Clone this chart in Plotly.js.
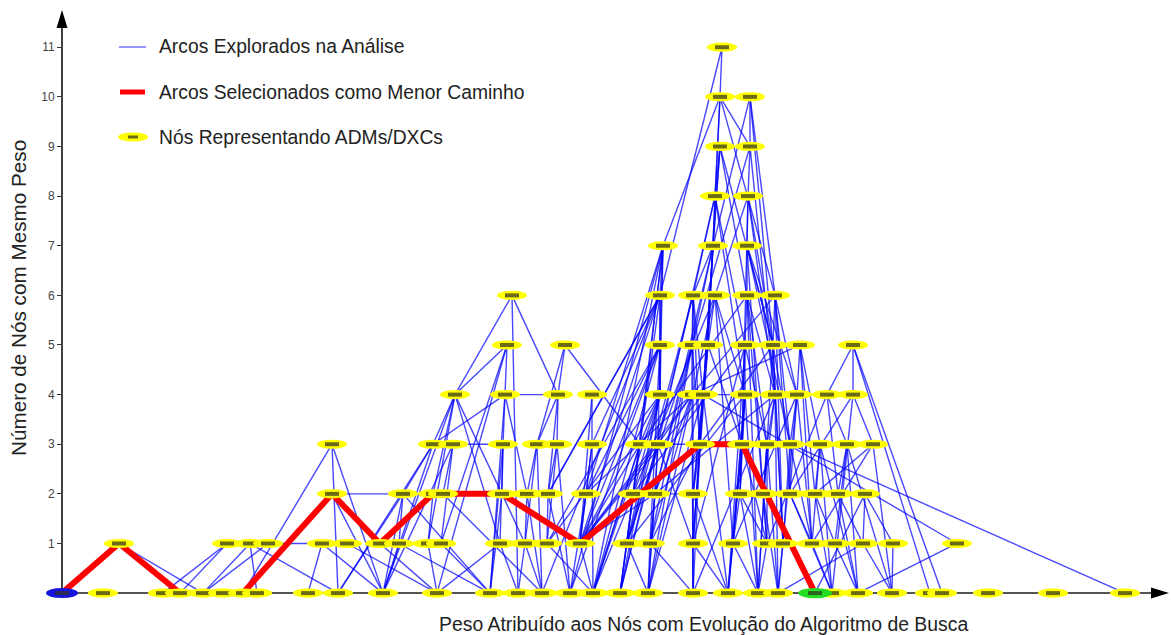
<!DOCTYPE html>
<html>
<head>
<meta charset="utf-8">
<script src="https://cdn.plot.ly/plotly-3.0.1.min.js"></script>
<style>html,body{margin:0;padding:0;background:#fff;}#chart{width:1171px;height:635px;}</style>
</head>
<body>
<div id="chart"></div>
<script>
// Peso (x) of each node, grouped by "número de nós com mesmo peso" (y level = array index)
const nivel0  = [0, 41, 101, 118, 141, 161, 181, 195, 246, 276, 321, 375, 428, 456, 480, 508, 531, 558, 586, 631, 666, 696, 716, 753, 770, 796, 830, 868, 880, 926, 991, 1063];
const nivel1  = [57, 165, 188, 206, 260, 285, 318, 337, 366, 379, 438, 463, 485, 518, 565, 588, 631, 671, 705, 721, 750, 773, 801, 831, 895];
const nivel2  = [270, 341, 371, 381, 440, 465, 486, 524, 571, 593, 631, 678, 701, 728, 753, 776, 803];
const nivel3  = [270, 371, 391, 441, 475, 495, 530, 578, 596, 638, 680, 705, 728, 758, 785, 811];
const nivel4  = [393, 443, 496, 530, 598, 630, 641, 683, 713, 735, 765, 791];
const nivel5  = [445, 503, 598, 630, 646, 683, 711, 738, 791];
const nivel6  = [450, 598, 631, 653, 685, 713];
const nivel7  = [601, 651, 685];
const nivel8  = [653, 686];
const nivel9  = [658, 688];
const nivel10 = [658, 688];
const nivel11 = [660];
const niveis = [nivel0, nivel1, nivel2, nivel3, nivel4, nivel5, nivel6, nivel7, nivel8, nivel9, nivel10, nivel11];

// Arcs explored (level:index - level:index)
const arcosExplorados = [
 "1:0-0:4","1:1-0:3","1:1-0:2","1:2-0:4","1:3-0:4","1:2-0:9","1:3-1:4","0:6-3:0","0:7-1:2","1:4-0:10","1:4-0:8","1:5-0:11",
 "0:9-3:1","0:10-3:1","0:10-3:2","0:10-4:0","3:0-0:10","3:0-0:9","2:0-0:10","2:0-2:1","1:6-1:7","2:1-0:10","3:1-4:0","2:2-4:0",
 "1:8-4:0","4:0-2:4","4:0-1:10","6:0-4:0","6:0-0:13","6:0-4:2","5:0-4:0","5:0-1:9","5:0-4:1","4:1-4:2","5:1-4:2","5:1-3:4",
 "5:1-3:7","4:3-1:13","4:1-3:3","4:2-3:5","4:2-2:6","1:6-0:11","1:7-0:12","2:1-0:12","2:3-0:14","3:2-3:3","3:2-2:3","3:2-1:9",
 "3:3-2:4","3:3-1:10","3:3-0:12","3:4-2:5","3:4-1:11","3:4-0:14","3:5-2:6","3:5-1:12","3:5-0:15","3:6-2:7","3:6-1:13","3:6-0:16",
 "3:1-2:1","2:1-1:7","2:1-0:9","2:2-1:8","2:4-1:11","2:4-0:12","2:5-1:11","2:5-0:14","2:6-1:12","2:6-0:15",
 "1:7-0:10","1:8-0:11","1:9-0:12","1:10-0:13","1:11-0:14","1:12-0:16","1:10-0:11","1:11-0:13",
 "0:11-5:0","0:12-4:1","4:1-3:1","4:1-2:5","4:2-3:4","4:3-3:6","0:15-7:0","0:14-6:1","1:12-5:2","2:6-6:1",
 "1:13-3:8","1:13-4:5","1:13-4:6","1:13-2:9","1:13-5:2","1:13-4:4","0:16-3:7","0:16-4:4",
 "11:0-10:0","11:0-6:1","10:0-7:0","10:0-8:0","10:0-9:1","10:0-6:5","10:1-9:1","10:1-6:5","10:1-7:1","9:0-8:0","9:0-7:1",
 "9:0-6:4","9:0-5:6","9:1-8:1","9:1-5:3","8:0-7:1","8:0-6:2","8:0-5:5","8:0-4:7","8:1-7:2","8:1-6:3","8:1-5:6","8:1-4:8",
 "7:0-6:1","7:0-5:2","7:0-4:4","7:0-3:7","7:0-1:14","7:1-6:2","7:1-5:4","7:1-4:6","7:1-3:9","7:2-6:4","7:2-5:6","7:2-4:9","7:2-3:12",
 "6:1-5:2","6:1-4:4","6:1-3:7","6:1-3:6","6:2-5:3","6:2-4:6","6:2-3:9","6:2-2:10","6:3-5:4","6:3-4:7","6:3-3:10","6:3-1:17",
 "6:4-5:5","6:4-4:8","6:4-3:11","6:4-0:21","6:5-5:6","6:5-4:9","6:5-3:12","6:5-2:13",
 "5:2-4:4","5:2-3:8","5:2-1:15","5:2-0:16","5:3-4:5","5:3-3:9","5:3-2:9","5:3-0:18","5:4-4:6","5:4-3:10","5:4-1:16",
 "5:5-4:7","5:5-3:11","5:5-2:11","5:5-0:20","5:6-4:8","5:6-3:12","5:6-1:19","5:7-4:9","5:7-3:13","5:7-2:14",
 "5:8-4:10","5:8-4:11","5:8-0:27","5:8-0:28",
 "4:4-3:7","4:4-2:8","4:4-1:14","4:4-0:17","4:5-3:8","4:5-2:9","4:5-1:15","4:5-0:19","4:6-3:9","4:6-2:10","4:6-1:16","4:6-0:20",
 "4:6-1:24","4:6-4:7","4:7-3:10","4:7-2:11","4:7-1:17","4:8-3:11","4:8-2:12","4:8-0:22","4:9-3:12","4:9-2:13","4:9-1:20",
 "4:10-3:14","4:10-2:15","4:11-3:15","4:11-2:13",
 "3:12-0:31","3:15-2:14","3:15-1:20","3:7-2:8","3:7-1:13","3:7-0:16","3:8-2:9","3:8-1:14","3:8-0:18","3:9-2:10","3:9-1:16",
 "3:9-0:19","3:10-2:11","3:10-1:17","3:10-0:20","3:11-2:12","3:11-1:18","3:11-0:21","3:12-2:13","3:12-1:19","3:13-2:14",
 "3:13-1:20","3:13-0:24","3:14-2:15","3:14-1:21","3:14-0:25","3:15-0:26",
 "2:16-0:23","2:16-1:22","2:16-1:23","2:7-1:13","2:7-0:15","2:8-1:14","2:8-0:17","2:9-1:15","2:9-0:18","2:10-1:16","2:10-0:19",
 "2:11-1:17","2:11-0:21","2:12-1:18","2:12-0:22","2:13-1:20","2:14-1:21","2:14-0:24","2:15-1:22","2:15-0:25",
 "1:13-0:16","1:14-0:17","1:15-0:18","1:16-0:19","1:17-0:20","1:18-0:21","1:19-0:22","1:20-0:24","1:21-0:25","1:22-0:26",
 "1:23-0:26","1:24-0:25","1:22-0:22",
 "6:4-3:7","5:5-2:8","4:7-1:14","4:8-2:9","5:6-3:9","6:5-4:5","5:7-4:5","4:8-0:19","4:9-1:17","4:7-0:21","4:10-1:18","4:11-0:24",
 "7:0-2:7","7:0-0:16","6:1-2:6","6:1-1:13","5:2-2:7","5:2-0:15","6:2-1:14","6:2-0:17","7:1-2:9","7:1-1:15","6:3-2:8","6:3-0:18",
 "8:0-3:8","8:1-3:10","9:0-4:6","9:1-4:8","10:0-5:4","10:1-5:6","7:2-2:12","6:4-1:18","6:5-1:19","5:5-1:16","5:6-0:21","5:7-1:20",
 "4:9-0:22","5:4-2:10","5:3-1:14","4:5-2:7","4:4-1:12","4:6-0:18","4:7-0:20","4:8-1:19","3:8-0:17","3:9-1:15","3:10-1:18",
 "3:11-0:22","3:12-1:20","3:13-0:25","3:14-0:26","2:10-0:20","2:11-1:18","2:13-0:24","3:7-0:17","3:8-1:16","4:4-4:5","3:8-3:9",
 "2:9-2:10","2:8-0:16","1:14-0:18","1:15-0:19","1:16-0:20","1:17-0:21"
];

// Shortest path (selected arcs)
const menorCaminho = ["0:0","1:0","0:3","0:6","2:0","1:6","2:2","2:4","1:13","3:9","3:10","0:23"];

const titulos = {
  x: "Peso Atribuído aos Nós com Evolução do Algoritmo de Busca",
  y: "Número de Nós com Mesmo Peso"
};
const legendaTextos = ["Arcos Explorados na Análise", "Arcos Selecionados como Menor Caminho", "Nós Representando ADMs/DXCs"];
const yTicks = [1,2,3,4,5,6,7,8,9,10,11];

function no(ref){ const p = ref.split(':').map(Number); return {x: niveis[p[0]][p[1]], y: p[0]}; }

const ex = [], ey = [];
arcosExplorados.forEach(a => {
  const [r1, r2] = a.split('-');
  const p = no(r1), q = no(r2);
  ex.push(p.x, q.x, null); ey.push(p.y, q.y, null);
});
const rx = menorCaminho.map(r => no(r).x);
const ry = menorCaminho.map(r => no(r).y);

const FONT = 'Arial, "Liberation Sans", sans-serif';
const XMIN = -25, XMAX = 1108, YMIN = -0.3, YMAX = 11.75;

const traces = [
  {x: ex, y: ey, mode: 'lines', type: 'scatter', line: {color: 'rgba(0,0,255,0.72)', width: 1.4}, hoverinfo: 'skip', showlegend: false},
  {x: rx, y: ry, mode: 'lines', type: 'scatter', line: {color: '#ff0000', width: 6}, hoverinfo: 'skip', showlegend: false}
];

const shapes = [];
const origem = no(menorCaminho[0]);
const destino = no(menorCaminho[menorCaminho.length - 1]);

// axes with arrows
shapes.push({type: 'line', xref: 'x', yref: 'y', x0: 0, x1: XMAX - 8, y0: 0, y1: 0, line: {color: '#555', width: 2}, layer: 'below'});
shapes.push({type: 'line', xref: 'x', yref: 'y', x0: 0, x1: 0, y0: 0, y1: YMAX - 0.2, line: {color: '#000', width: 1.5}, layer: 'below'});
shapes.push({type: 'path', xref: 'x', yref: 'y', xsizemode: 'pixel', ysizemode: 'pixel', xanchor: XMAX - 1, yanchor: 0,
  path: 'M-18,-5.5 L-18,5.5 L0,0 Z', fillcolor: '#000', line: {width: 0}, layer: 'below'});
shapes.push({type: 'path', xref: 'x', yref: 'y', xsizemode: 'pixel', ysizemode: 'pixel', xanchor: 0, yanchor: YMAX,
  path: 'M-5.5,-18 L5.5,-18 L0,0 Z', fillcolor: '#000', line: {width: 0}, layer: 'below'});

function nodeShapes(px, l, fill, hw, hh) {
  shapes.push({type: 'circle', xref: 'x', yref: 'y', xsizemode: 'pixel', ysizemode: 'pixel', xanchor: px, yanchor: l,
    x0: -hw, x1: hw, y0: -hh, y1: hh, fillcolor: fill, line: {width: 0}, layer: 'above'});
  shapes.push({type: 'rect', xref: 'x', yref: 'y', xsizemode: 'pixel', ysizemode: 'pixel', xanchor: px, yanchor: l,
    x0: -7, x1: 7, y0: -2, y1: 2, fillcolor: 'rgba(50,50,30,0.72)', line: {width: 0}, layer: 'above'});
}
niveis.forEach((arr, l) => {
  arr.forEach(px => {
    const isO = (l === origem.y && px === origem.x), isD = (l === destino.y && px === destino.x);
    if (!isO && !isD) nodeShapes(px, l, '#ffff00', 15, 4.6);
  });
});
nodeShapes(origem.x, origem.y, '#1515dd', 16, 5);
nodeShapes(destino.x, destino.y, '#22dd22', 17, 5.2);

// custom legend (pixel -> paper helpers)
const L = 37, R = 1, T = 10, B = 27, WID = 1171, HEI = 635;
const PW = WID - L - R, PH = HEI - T - B;
const px2x = p => (p - L) / PW, py2y = p => (HEI - B - p) / PH;
const legY = [47, 92, 137];
shapes.push({type: 'line', xref: 'paper', yref: 'paper', x0: px2x(119), x1: px2x(146), y0: py2y(legY[0]), y1: py2y(legY[0]), line: {color: '#7b7bff', width: 1.6}});
shapes.push({type: 'line', xref: 'paper', yref: 'paper', x0: px2x(120), x1: px2x(145), y0: py2y(legY[1]), y1: py2y(legY[1]), line: {color: '#ff0000', width: 5}});
shapes.push({type: 'circle', xref: 'paper', yref: 'paper', xsizemode: 'pixel', ysizemode: 'pixel', xanchor: px2x(133), yanchor: py2y(legY[2]),
  x0: -15, x1: 15, y0: -4.5, y1: 4.5, fillcolor: '#ffff00', line: {width: 0}});
shapes.push({type: 'rect', xref: 'paper', yref: 'paper', xsizemode: 'pixel', ysizemode: 'pixel', xanchor: px2x(133), yanchor: py2y(legY[2]),
  x0: -5, x1: 5, y0: -1.5, y1: 1.5, fillcolor: 'rgba(50,50,30,0.72)', line: {width: 0}});

const annotations = legendaTextos.map((t, i) => ({
  text: t, xref: 'paper', yref: 'paper', x: px2x(157), y: py2y(legY[i]), xanchor: 'left', yanchor: 'middle',
  showarrow: false, font: {family: FONT, size: 19.3, color: '#222'}
}));
annotations.push({text: titulos.x, xref: 'paper', yref: 'paper', x: px2x(703.5), y: py2y(624), xanchor: 'center', yanchor: 'middle',
  showarrow: false, font: {family: FONT, size: 19.4, color: '#222'}});
annotations.push({text: titulos.y, xref: 'paper', yref: 'paper', x: px2x(18.5), y: py2y(298.5), xanchor: 'center', yanchor: 'middle',
  textangle: -90, showarrow: false, font: {family: FONT, size: 20.7, color: '#222'}});

const layout = {
  width: WID, height: HEI,
  margin: {l: L, r: R, t: T, b: B},
  paper_bgcolor: '#fff', plot_bgcolor: '#fff',
  showlegend: false,
  xaxis: {range: [XMIN, XMAX], showgrid: false, zeroline: false, showline: false, showticklabels: false, ticks: ''},
  yaxis: {range: [YMIN, YMAX], anchor: 'free', position: (0 - XMIN) / (XMAX - XMIN), showgrid: false, zeroline: false, showline: false,
    tickvals: yTicks, ticks: 'outside', ticklen: 5, tickcolor: '#333', tickwidth: 1,
    tickfont: {family: FONT, size: 12, color: '#444'}},
  shapes: shapes,
  annotations: annotations
};

Plotly.newPlot('chart', traces, layout, {displayModeBar: false, staticPlot: true});
</script>
</body>
</html>
